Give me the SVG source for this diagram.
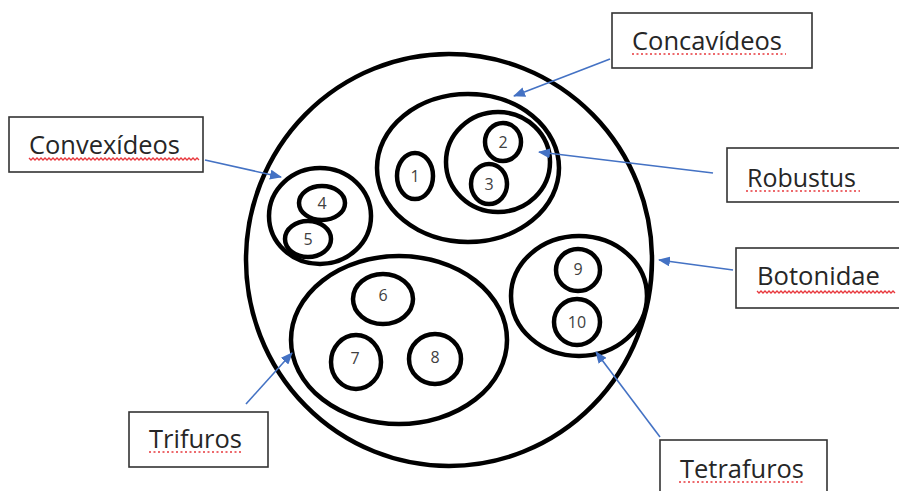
<svg xmlns="http://www.w3.org/2000/svg" width="899" height="491" viewBox="0 0 899 491">
<style>
.ring{fill:none;stroke:#000;stroke-width:4.5}
.num{font-family:"Open Sans","Liberation Sans",sans-serif;font-size:16px;fill:#404040;text-anchor:middle}
.box{fill:#fff;stroke:#333;stroke-width:1.6}
.lbl{font-family:"Open Sans","Liberation Sans",sans-serif;font-size:25px;fill:#262626}
.arr{stroke:#4472C4;stroke-width:1.6;fill:none;marker-end:url(#ah)}
.dot{stroke:#e8383d;stroke-width:1.3;stroke-dasharray:2 2.5;fill:none}
.wave{stroke:#e8383d;stroke-width:1.3;fill:none}
</style>
<defs>
<marker id="ah" viewBox="0 0 12 10" refX="11" refY="5" markerWidth="12" markerHeight="10" markerUnits="userSpaceOnUse" orient="auto">
<path d="M0,0 L12,5 L0,10 Z" fill="#4472C4"/>
</marker>
</defs>
<rect width="899" height="491" fill="#fff"/>
<g id="outer"><ellipse class="ring" cx="449" cy="260" rx="203" ry="206"/></g>
<g id="concavideos-set"><ellipse class="ring" cx="468" cy="168" rx="91" ry="74"/></g>
<g id="robustus-set"><ellipse class="ring" cx="498" cy="162" rx="52" ry="50"/></g>
<g id="n1"><ellipse class="ring" cx="415" cy="176" rx="18" ry="23"/><text class="num" x="415" y="182">1</text></g>
<g id="n2"><ellipse class="ring" cx="503" cy="142" rx="18" ry="19"/><text class="num" x="503" y="148">2</text></g>
<g id="n3"><ellipse class="ring" cx="489" cy="184" rx="18" ry="20"/><text class="num" x="489" y="190">3</text></g>
<g id="convexideos-set"><ellipse class="ring" cx="320" cy="216" rx="51" ry="48"/></g>
<g id="n4"><ellipse class="ring" cx="322" cy="203" rx="23" ry="17"/><text class="num" x="322" y="209">4</text></g>
<g id="n5"><ellipse class="ring" cx="308" cy="239" rx="23" ry="18"/><text class="num" x="308" y="245">5</text></g>
<g id="trifuros-set"><ellipse class="ring" cx="399" cy="340" rx="108" ry="84"/></g>
<g id="n6"><ellipse class="ring" cx="383" cy="299" rx="30" ry="25"/><text class="num" x="383" y="301">6</text></g>
<g id="n7"><ellipse class="ring" cx="356" cy="362" rx="25" ry="27"/><text class="num" x="355" y="364">7</text></g>
<g id="n8"><ellipse class="ring" cx="435" cy="359" rx="26" ry="25"/><text class="num" x="435" y="363">8</text></g>
<g id="botonidae-set"><ellipse class="ring" cx="579" cy="296" rx="68" ry="60"/></g>
<g id="n9"><ellipse class="ring" cx="578" cy="270" rx="22" ry="21"/><text class="num" x="578" y="275">9</text></g>
<g id="n10"><ellipse class="ring" cx="577" cy="322" rx="23" ry="23"/><text class="num" x="577" y="328">10</text></g>

<g id="connectors">
<line class="arr" x1="610" y1="59" x2="514" y2="96"/>
<line class="arr" x1="205" y1="160" x2="281" y2="177"/>
<line class="arr" x1="713" y1="173" x2="539" y2="152"/>
<line class="arr" x1="733" y1="270" x2="659" y2="260"/>
<line class="arr" x1="246" y1="404" x2="292" y2="353"/>
<line class="arr" x1="660" y1="437" x2="596" y2="352"/>
</g>

<g id="label-concavideos">
<rect class="box" x="612" y="13" width="200" height="55"/>
<text class="lbl" x="632" y="50" textLength="150" lengthAdjust="spacingAndGlyphs">Concavídeos</text>
<line class="dot" x1="632" y1="54" x2="786" y2="54"/>
</g>
<g id="label-convexideos">
<rect class="box" x="9" y="117" width="194" height="55"/>
<text class="lbl" x="29" y="154" textLength="151" lengthAdjust="spacingAndGlyphs">Convexídeos</text>
<path class="wave" d="M29,158 l2,2 l2,-2 l2,2 l2,-2 l2,2 l2,-2 l2,2 l2,-2 l2,2 l2,-2 l2,2 l2,-2 l2,2 l2,-2 l2,2 l2,-2 l2,2 l2,-2 l2,2 l2,-2 l2,2 l2,-2 l2,2 l2,-2 l2,2 l2,-2 l2,2 l2,-2 l2,2 l2,-2 l2,2 l2,-2 l2,2 l2,-2 l2,2 l2,-2 l2,2 l2,-2 l2,2 l2,-2 l2,2 l2,-2 l2,2 l2,-2 l2,2 l2,-2 l2,2 l2,-2 l2,2 l2,-2 l2,2 l2,-2 l2,2 l2,-2 l2,2 l2,-2 l2,2 l2,-2 l2,2 l2,-2 l2,2 l2,-2 l2,2 l2,-2 l2,2 l2,-2 l2,2 l2,-2 l2,2 l2,-2 l2,2 l2,-2 l2,2 l2,-2 l2,2 l2,-2 l2,2 l2,-2 l2,2 l2,-2 l2,2 l2,-2 l2,2 l2,-2 l2,2"/>
</g>
<g id="label-robustus">
<rect class="box" x="727" y="148" width="180" height="54"/>
<text class="lbl" x="747" y="187" textLength="109" lengthAdjust="spacingAndGlyphs">Robustus</text>
<line class="dot" x1="746" y1="191" x2="860" y2="191"/>
</g>
<g id="label-botonidae">
<rect class="box" x="736" y="248" width="170" height="60"/>
<text class="lbl" x="757" y="285" textLength="123" lengthAdjust="spacingAndGlyphs">Botonidae</text>
<path class="wave" d="M757,291 l2,2 l2,-2 l2,2 l2,-2 l2,2 l2,-2 l2,2 l2,-2 l2,2 l2,-2 l2,2 l2,-2 l2,2 l2,-2 l2,2 l2,-2 l2,2 l2,-2 l2,2 l2,-2 l2,2 l2,-2 l2,2 l2,-2 l2,2 l2,-2 l2,2 l2,-2 l2,2 l2,-2 l2,2 l2,-2 l2,2 l2,-2 l2,2 l2,-2 l2,2 l2,-2 l2,2 l2,-2 l2,2 l2,-2 l2,2 l2,-2 l2,2 l2,-2 l2,2 l2,-2 l2,2 l2,-2 l2,2 l2,-2 l2,2 l2,-2 l2,2 l2,-2 l2,2 l2,-2 l2,2 l2,-2 l2,2 l2,-2 l2,2 l2,-2 l2,2 l2,-2 l2,2 l2,-2 l2,2"/>
</g>
<g id="label-trifuros">
<rect class="box" x="129" y="412" width="139" height="55"/>
<text class="lbl" x="149" y="448" textLength="93" lengthAdjust="spacingAndGlyphs">Trifuros</text>
<line class="dot" x1="149" y1="452" x2="243" y2="452"/>
</g>
<g id="label-tetrafuros">
<rect class="box" x="660" y="440" width="167" height="60"/>
<text class="lbl" x="680" y="478" textLength="124" lengthAdjust="spacingAndGlyphs">Tetrafuros</text>
<line class="dot" x1="679" y1="482" x2="805" y2="482"/>
</g>
</svg>
